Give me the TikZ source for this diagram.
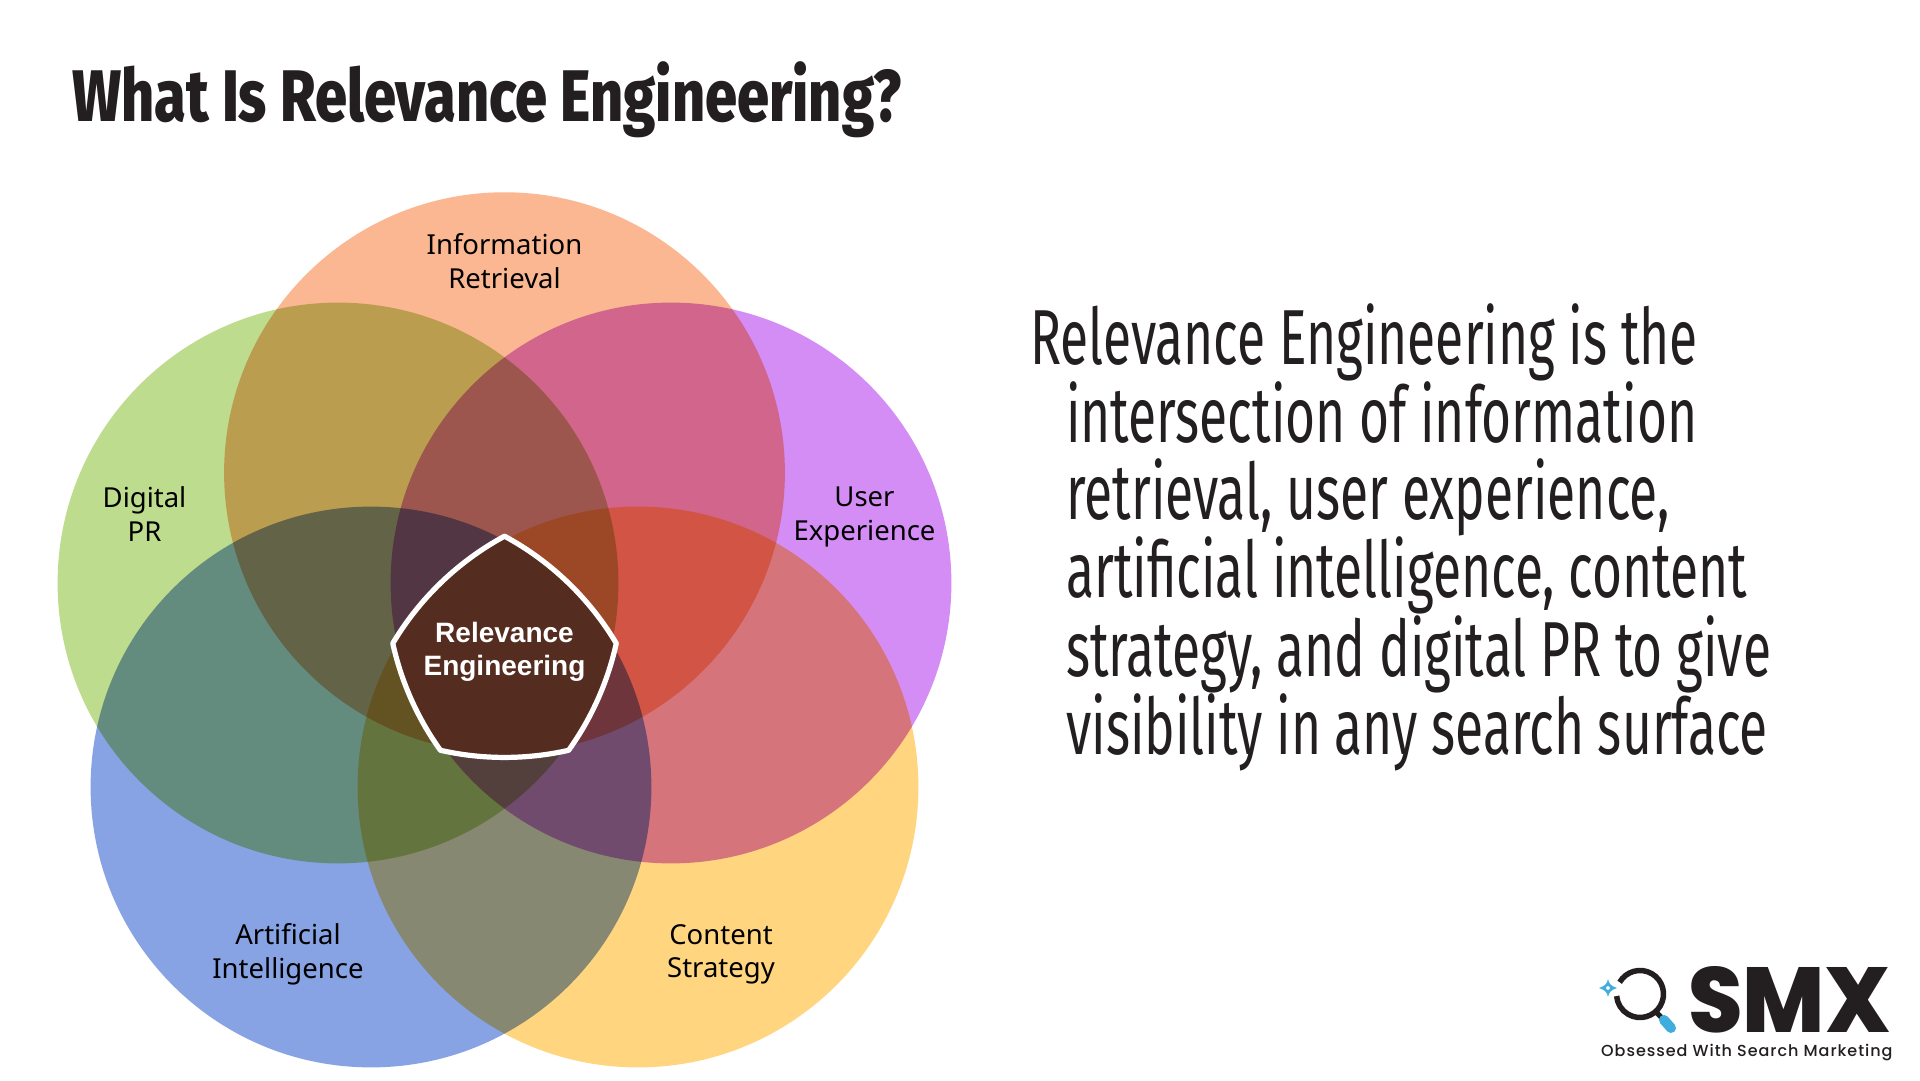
\documentclass[tikz,border=0pt]{standalone}
\usepackage{fontspec}
\usepackage{graphicx}
\setmainfont{Liberation Sans}
\newfontfamily\titlefont[FakeStretch=0.79]{Fira Sans ExtraBold}
\newfontfamily\bodyfont[FakeStretch=0.66]{Fira Sans}
\newfontfamily\labelfont{Noto Sans}
\newfontfamily\labelbold{Liberation Sans}
\newfontfamily\logofont{Poppins ExtraBold}
\newfontfamily\tagfont[LetterSpace=6]{Poppins Medium}
\definecolor{cTop}{HTML}{FBB791}
\definecolor{cLeft}{HTML}{BEDC8E}
\definecolor{cRight}{HTML}{D58DF6}
\definecolor{cBL}{HTML}{87A3E3}
\definecolor{cBR}{HTML}{FFD580}
\definecolor{cCore}{HTML}{552D20}
\definecolor{ink}{HTML}{231F20}
\definecolor{logoblue}{HTML}{41ADDD}
\tikzset{
  venn/.style={inner sep=0pt,outer sep=0pt,circle,minimum size=560.8pt},
  lab/.style={inner sep=0pt,align=center,text=black,font=\labelfont\fontsize{27.5}{33.7}\selectfont},
}
\begin{document}
\begin{tikzpicture}[x=1pt,y=1pt]
\useasboundingbox (0,0) rectangle (1920,1080);
\fill[white] (0,0) rectangle (1920,1080);
\begin{scope}[blend group=multiply]
  \node[venn,fill=cTop]   (top)   at (504.5,607.3) {};
  \node[venn,fill=cLeft]  (left)  at (338,497) {};
  \node[venn,fill=cRight] (right) at (671,497) {};
  \node[venn,fill=cBL]    (bl)    at (371,293) {};
  \node[venn,fill=cBR]    (br)    at (638,293) {};
\end{scope}
\begin{scope}[scale around={1.04:(504.5,434)}]
\filldraw[draw=white,fill=cCore,line width=5.2pt,line join=round]
  (504.5,539.6) arc[start angle=61.6,end angle=30.8,radius=280.4pt]
  arc[start angle=-12.44,end angle=-35.6,radius=280.4pt]
  arc[start angle=-77.3,end angle=-102.7,radius=280.4pt]
  arc[start angle=215.6,end angle=192.44,radius=280.4pt]
  arc[start angle=149.2,end angle=118.4,radius=280.4pt] -- cycle;
\end{scope}
\node[lab] (l1) at (504.5,814) {Information\\Retrieval\strut};
\node[lab] (l2) at (144.5,561) {Digital\\PR\strut};
\node[lab] (l3) at (864.5,561) {User\\Experience\strut};
\node[lab] (l4) at (288,124) {Artificial\\Intelligence\strut};
\node[lab] (l5) at (721,124) {Content\\Strategy\strut};
\node[lab,text=white,font=\labelbold\bfseries\fontsize{28}{33.7}\selectfont] (l6) at (504.5,426) {Relevance\\Engineering\strut};
\node[anchor=base west,inner sep=0pt,text=ink,font=\titlefont\fontsize{73}{80}\selectfont] (title) at (72,958) {What Is Relevance Engineering?};
\node[anchor=north west,inner sep=0pt,text=ink] (para) at (1030,777) {%
  \begin{minipage}{780pt}\bodyfont\fontsize{78}{77}\selectfont
  \hangindent=36pt\hangafter=1\noindent
  Relevance Engineering is the\\
  intersection of information\\
  retrieval, user experience,\\
  artificial intelligence, content\\
  strategy, and digital PR to give\\
  visibility in any search surface
  \end{minipage}};
% logo
\draw[ink,line width=5.5pt] (1640,86) ++(150:23.5pt) arc[start angle=150,end angle=-175,radius=23.5pt];
\draw[ink,line width=5pt] (1656,68) -- (1661,63);
\draw[logoblue,line width=10pt,line cap=round] (1664,60) -- (1671,52);
\fill[logoblue,even odd rule] (1608,101) .. controls (1609,96) and (1611,94) .. (1617,92) .. controls (1611,90) and (1609,88) .. (1608,83) .. controls (1607,88) and (1605,90) .. (1599,92) .. controls (1605,94) and (1607,96) .. (1608,101) -- cycle (1608,92) circle[radius=2pt];
\node[anchor=south west,inner sep=0pt,text=ink] (smx) at (1688,47) {\resizebox{202pt}{66pt}{\logofont SMX}};
\node[anchor=base west,inner sep=0pt,text=ink,font=\tagfont\fontsize{16}{19}\selectfont] (tag) at (1601,24) {Obsessed With Search Marketing};
\end{tikzpicture}
\end{document}
